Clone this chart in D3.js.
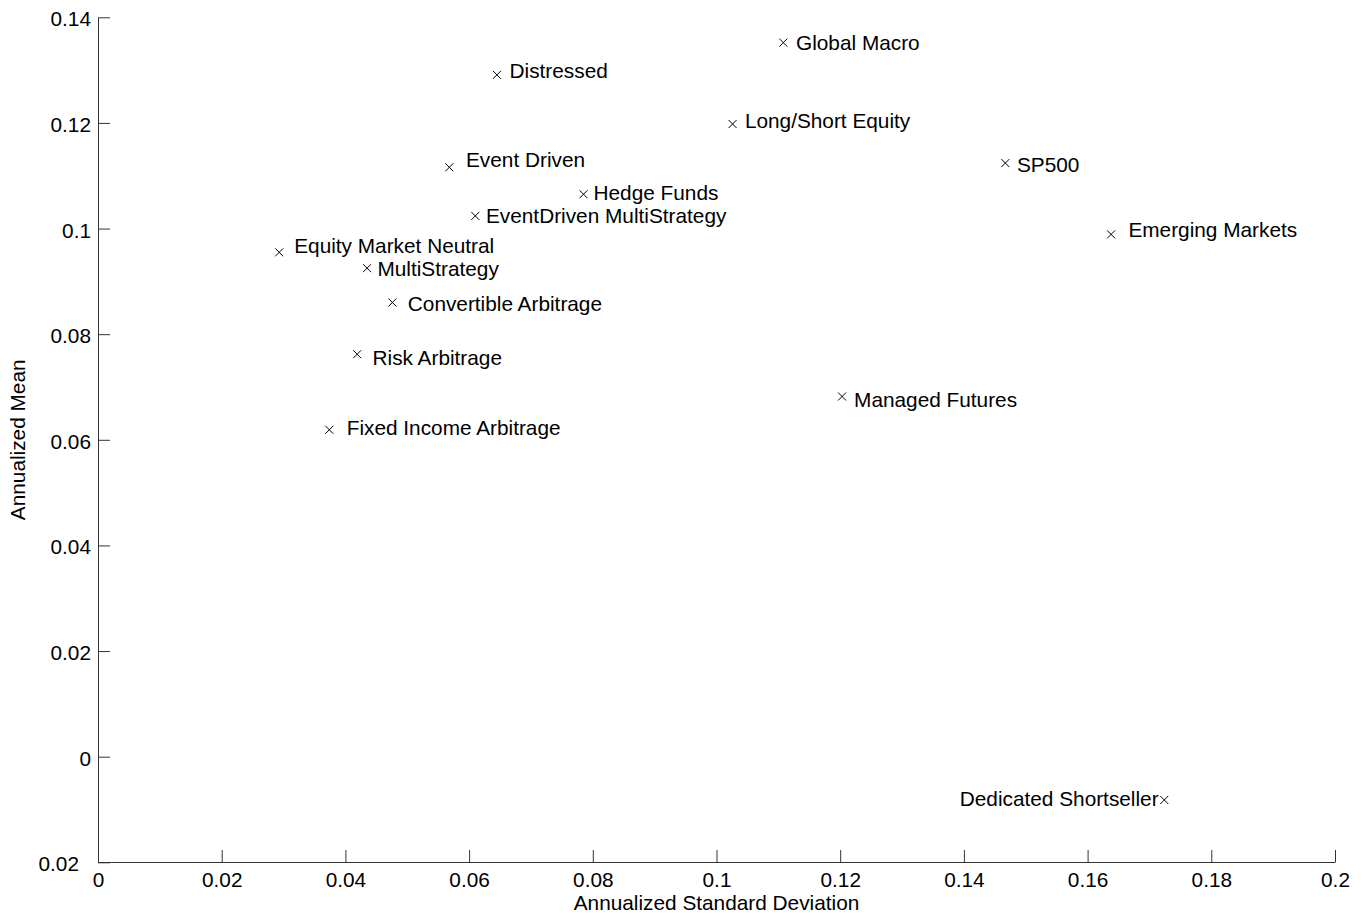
<!DOCTYPE html>
<html>
<head>
<meta charset="utf-8">
<script src="https://cdn.jsdelivr.net/npm/d3@7/dist/d3.min.js"></script>
<style>
  html, body { margin: 0; padding: 0; background: #fff; }
  svg { display: block; font-family: "Liberation Sans", Arial, Helvetica, sans-serif; }
</style>
</head>
<body>
<svg id="chart" width="1366" height="915"></svg>
<script>
// Hedge fund index styles: annualized risk vs. return
const names = [
  "Global Macro", "Distressed", "Long/Short Equity", "Event Driven", "SP500",
  "Hedge Funds", "EventDriven MultiStrategy", "Emerging Markets",
  "Equity Market Neutral", "MultiStrategy", "Convertible Arbitrage",
  "Risk Arbitrage", "Fixed Income Arbitrage", "Managed Futures",
  "Dedicated Shortseller"
];
const stdDev = [
  0.1108, 0.0645, 0.1026, 0.0568, 0.1467,
  0.0785, 0.0610, 0.1638,
  0.0293, 0.0435, 0.0476,
  0.0419, 0.0374, 0.1203,
  0.1724
];
const mean = [
  0.1352, 0.1291, 0.1198, 0.1116, 0.1124,
  0.1065, 0.1024, 0.0989,
  0.0955, 0.0925, 0.0860,
  0.0762, 0.0619, 0.0682,
  -0.0082
];

// Axis ticks and their printed labels
const xTicks = [0, 0.02, 0.04, 0.06, 0.08, 0.1, 0.12, 0.14, 0.16, 0.18, 0.2];
const xTickLabels = ["0", "0.02", "0.04", "0.06", "0.08", "0.1", "0.12", "0.14", "0.16", "0.18", "0.2"];
const yTicks = [-0.02, 0, 0.02, 0.04, 0.06, 0.08, 0.1, 0.12, 0.14];
const yTickLabels = ["0.02", "0", "0.02", "0.04", "0.06", "0.08", "0.1", "0.12", "0.14"];

// Label placement relative to each marker (pixels): [dx, dy, anchor]
const labelLayout = [
  [12.7, 7.3, "start"], [12.6, 2.7, "start"], [12.3, 4.3, "start"], [16.7, 0, "start"], [11.6, 9, "start"],
  [10, 5.7, "start"], [10.7, 7.3, "start"], [17.3, 2.4, "start"],
  [15, 1, "start"], [10.4, 7.7, "start"], [15.4, 9, "start"],
  [15.4, 11, "start"], [17.4, 5, "start"], [12, 10.6, "start"],
  [-5.7, 6, "end"]
];

const svg = d3.select("#chart");
const fontSize = 20.8;
const fontFamily = "'Liberation Sans', Arial, Helvetica, sans-serif";

const x = d3.scaleLinear().domain([0, 0.2]).range([98, 1335]);
const y = d3.scaleLinear().domain([-0.02, 0.14]).range([862.3, 17.3]);

const tickLen = 12;
const axisColor = "#333";

// Bottom axis (ticks point into the plot)
const xAxis = d3.axisBottom(x)
  .tickValues(xTicks)
  .tickFormat((d, i) => xTickLabels[i])
  .tickSizeInner(-tickLen)
  .tickSizeOuter(0)
  .tickPadding(0);
const gx = svg.append("g").attr("transform", "translate(0,862)").call(xAxis);
gx.select(".domain").attr("stroke", axisColor);
gx.selectAll(".tick line").attr("stroke", axisColor);
gx.selectAll(".tick text")
  .attr("y", 24.7).attr("dy", null)
  .attr("fill", "#000")
  .style("font-size", fontSize + "px")
  .style("font-family", fontFamily);

// Left axis (ticks point into the plot)
const yAxis = d3.axisLeft(y)
  .tickValues(yTicks)
  .tickFormat((d, i) => yTickLabels[i])
  .tickSizeInner(-tickLen)
  .tickSizeOuter(0)
  .tickPadding(0);
const gy = svg.append("g").attr("transform", "translate(98,0)").call(yAxis);
gy.select(".domain").attr("stroke", axisColor);
gy.selectAll(".tick line").attr("stroke", axisColor);
gy.selectAll(".tick text")
  .attr("x", d => d < 0 ? -19 : -7)
  .attr("dy", null)
  .attr("y", 8.5)
  .attr("text-anchor", "end")
  .attr("fill", "#000")
  .style("font-size", fontSize + "px")
  .style("font-family", fontFamily);

// Axis titles
svg.append("text")
  .attr("x", (x(0) + x(0.2)) / 2)
  .attr("y", 910)
  .attr("text-anchor", "middle")
  .style("font-size", fontSize + "px")
  .text("Annualized Standard Deviation");

svg.append("text")
  .attr("transform", `translate(25,${(y(0.14) + y(-0.02)) / 2}) rotate(-90)`)
  .attr("text-anchor", "middle")
  .style("font-size", fontSize + "px")
  .text("Annualized Mean");

// Points: x-shaped markers with their labels
const points = names.map((n, i) => ({ name: n, sd: stdDev[i], mu: mean[i], layout: labelLayout[i] }));
const r = 4;

const pts = svg.append("g").selectAll("g")
  .data(points)
  .join("g")
  .attr("transform", d => `translate(${x(d.sd)},${y(d.mu)})`);

pts.append("path")
  .attr("d", `M${-r},${-r}L${r},${r}M${-r},${r}L${r},${-r}`)
  .attr("stroke", "#000")
  .attr("stroke-width", 1)
  .attr("fill", "none");

pts.append("text")
  .attr("x", d => d.layout[0])
  .attr("y", d => d.layout[1])
  .attr("text-anchor", d => d.layout[2])
  .style("font-size", fontSize + "px")
  .attr("fill", "#000")
  .text(d => d.name);
</script>
</body>
</html>
